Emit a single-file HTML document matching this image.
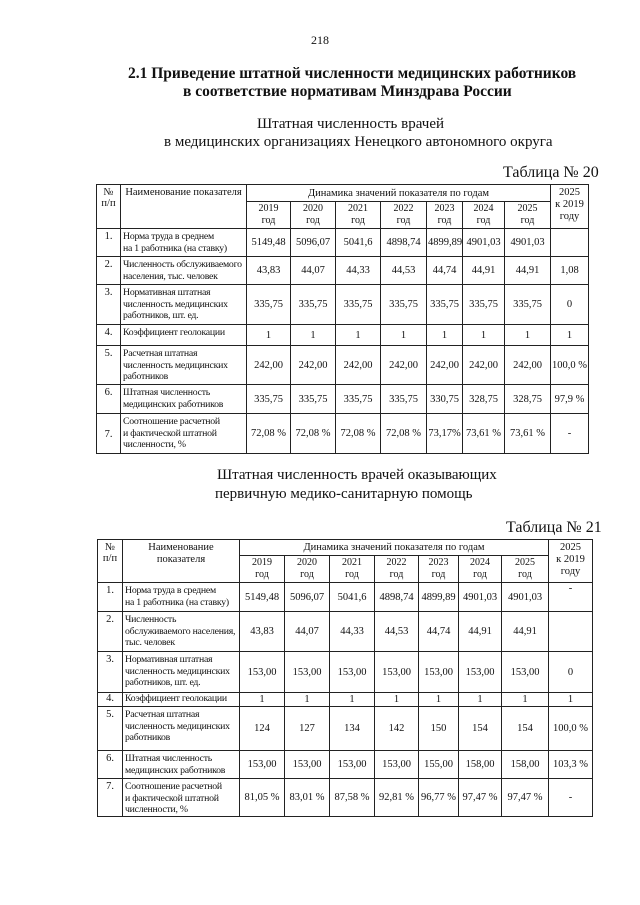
<!DOCTYPE html>
<html><head><meta charset="utf-8"><style>
body{margin:0;width:640px;height:905px;background:#fff;font-family:"Liberation Serif",serif;color:#111;position:relative;overflow:hidden}
.a{position:absolute;white-space:nowrap}
.c{text-align:center;left:0;width:640px}
table{position:absolute;border-collapse:collapse;table-layout:fixed;font-size:10.5px;line-height:11px}
td{border:1px solid #222;padding:0 1px;text-align:center;vertical-align:middle;overflow:hidden;white-space:nowrap}
td.n{vertical-align:top;padding-top:2px}
td.t{text-align:left;vertical-align:top;font-size:9.8px;line-height:11.5px;padding:2px 1px 0 2px;letter-spacing:-0.25px}
td.h{vertical-align:top;padding-top:2px;font-size:10.5px}
td.y{font-size:10px;line-height:12px}
</style></head><body>
<div class="a c" style="top:33px;font-size:12px">218</div>
<div class="a" style="top:65px;left:128px;font-size:15.5px;font-weight:bold">2.1 Приведение штатной численности медицинских работников</div>
<div class="a" style="top:83px;left:183px;font-size:15.5px;font-weight:bold">в соответствие нормативам Минздрава России</div>
<div class="a" style="top:116px;left:257px;font-size:15px">Штатная численность врачей</div>
<div class="a" style="top:134px;left:164px;font-size:15px">в медицинских организациях Ненецкого автономного округа</div>
<div class="a" style="top:164px;left:503px;font-size:16px">Таблица № 20</div>

<table style="left:96px;top:184px;width:492px">
<colgroup><col style="width:24px"><col style="width:126px"><col style="width:44px"><col style="width:45px"><col style="width:45px"><col style="width:46px"><col style="width:36px"><col style="width:42px"><col style="width:46px"><col style="width:38px"></colgroup>
<tr style="height:17px"><td class="n" rowspan="2">№<br>п/п</td><td class="h" rowspan="2">Наименование показателя</td><td colspan="7">Динамика значений показателя по годам</td><td class="h" rowspan="2" style="line-height:12px">2025<br>к 2019<br>году</td></tr>
<tr style="height:27px"><td class="y">2019<br>год</td><td class="y">2020<br>год</td><td class="y">2021<br>год</td><td class="y">2022<br>год</td><td class="y">2023<br>год</td><td class="y">2024<br>год</td><td class="y">2025<br>год</td></tr>
<tr style="height:28px"><td class="n">1.</td><td class="t">Норма труда в среднем<br>на 1 работника (на ставку)</td><td>5149,48</td><td>5096,07</td><td>5041,6</td><td>4898,74</td><td>4899,89</td><td>4901,03</td><td>4901,03</td><td></td></tr>
<tr style="height:28px"><td class="n">2.</td><td class="t">Численность обслуживаемого<br>населения, тыс. человек</td><td>43,83</td><td>44,07</td><td>44,33</td><td>44,53</td><td>44,74</td><td>44,91</td><td>44,91</td><td>1,08</td></tr>
<tr style="height:40px"><td class="n">3.</td><td class="t">Нормативная штатная<br>численность медицинских<br>работников, шт. ед.</td><td>335,75</td><td>335,75</td><td>335,75</td><td>335,75</td><td>335,75</td><td>335,75</td><td>335,75</td><td>0</td></tr>
<tr style="height:21px"><td class="n">4.</td><td class="t">Коэффициент геолокации</td><td>1</td><td>1</td><td>1</td><td>1</td><td>1</td><td>1</td><td>1</td><td>1</td></tr>
<tr style="height:39px"><td class="n">5.</td><td class="t">Расчетная штатная<br>численность медицинских<br>работников</td><td>242,00</td><td>242,00</td><td>242,00</td><td>242,00</td><td>242,00</td><td>242,00</td><td>242,00</td><td>100,0 %</td></tr>
<tr style="height:29px"><td class="n">6.</td><td class="t">Штатная численность<br>медицинских работников</td><td>335,75</td><td>335,75</td><td>335,75</td><td>335,75</td><td>330,75</td><td>328,75</td><td>328,75</td><td>97,9 %</td></tr>
<tr style="height:40px"><td class="n" style="vertical-align:middle">7.</td><td class="t">Соотношение расчетной<br>и фактической штатной<br>численности, %</td><td>72,08 %</td><td>72,08 %</td><td>72,08 %</td><td>72,08 %</td><td>73,17%</td><td>73,61 %</td><td>73,61 %</td><td>-</td></tr>
</table>

<div class="a" style="top:467px;left:217px;font-size:15px">Штатная численность врачей оказывающих</div>
<div class="a" style="top:486px;left:215px;font-size:15px">первичную медико-санитарную помощь</div>
<div class="a" style="top:519px;left:506px;font-size:16px">Таблица № 21</div>

<table style="left:97px;top:539px;width:494px">
<colgroup><col style="width:25px"><col style="width:117px"><col style="width:45px"><col style="width:45px"><col style="width:45px"><col style="width:44px"><col style="width:40px"><col style="width:43px"><col style="width:47px"><col style="width:44px"></colgroup>
<tr style="height:16px"><td class="n" rowspan="2">№<br>п/п</td><td class="h" rowspan="2" style="line-height:12px">Наименование<br>показателя</td><td colspan="7">Динамика значений показателя по годам</td><td class="h" rowspan="2" style="line-height:12px">2025<br>к 2019<br>году</td></tr>
<tr style="height:27px"><td class="y">2019<br>год</td><td class="y">2020<br>год</td><td class="y">2021<br>год</td><td class="y">2022<br>год</td><td class="y">2023<br>год</td><td class="y">2024<br>год</td><td class="y">2025<br>год</td></tr>
<tr style="height:29px"><td class="n">1.</td><td class="t">Норма труда в среднем<br>на 1 работника (на ставку)</td><td>5149,48</td><td>5096,07</td><td>5041,6</td><td>4898,74</td><td>4899,89</td><td>4901,03</td><td>4901,03</td><td style="vertical-align:top">-</td></tr>
<tr style="height:40px"><td class="n">2.</td><td class="t">Численность<br>обслуживаемого населения,<br>тыс. человек</td><td>43,83</td><td>44,07</td><td>44,33</td><td>44,53</td><td>44,74</td><td>44,91</td><td>44,91</td><td></td></tr>
<tr style="height:41px"><td class="n">3.</td><td class="t">Нормативная штатная<br>численность медицинских<br>работников, шт. ед.</td><td>153,00</td><td>153,00</td><td>153,00</td><td>153,00</td><td>153,00</td><td>153,00</td><td>153,00</td><td>0</td></tr>
<tr style="height:14px"><td class="n" style="padding-top:0">4.</td><td class="t" style="padding-top:0">Коэффициент геолокации</td><td>1</td><td>1</td><td>1</td><td>1</td><td>1</td><td>1</td><td>1</td><td>1</td></tr>
<tr style="height:44px"><td class="n">5.</td><td class="t">Расчетная штатная<br>численность медицинских<br>работников</td><td>124</td><td>127</td><td>134</td><td>142</td><td>150</td><td>154</td><td>154</td><td>100,0 %</td></tr>
<tr style="height:28px"><td class="n">6.</td><td class="t">Штатная численность<br>медицинских работников</td><td>153,00</td><td>153,00</td><td>153,00</td><td>153,00</td><td>155,00</td><td>158,00</td><td>158,00</td><td>103,3 %</td></tr>
<tr style="height:38px"><td class="n">7.</td><td class="t">Соотношение расчетной<br>и фактической штатной<br>численности, %</td><td>81,05 %</td><td>83,01 %</td><td>87,58 %</td><td>92,81 %</td><td>96,77 %</td><td>97,47 %</td><td>97,47 %</td><td>-</td></tr>
</table>
</body></html>
